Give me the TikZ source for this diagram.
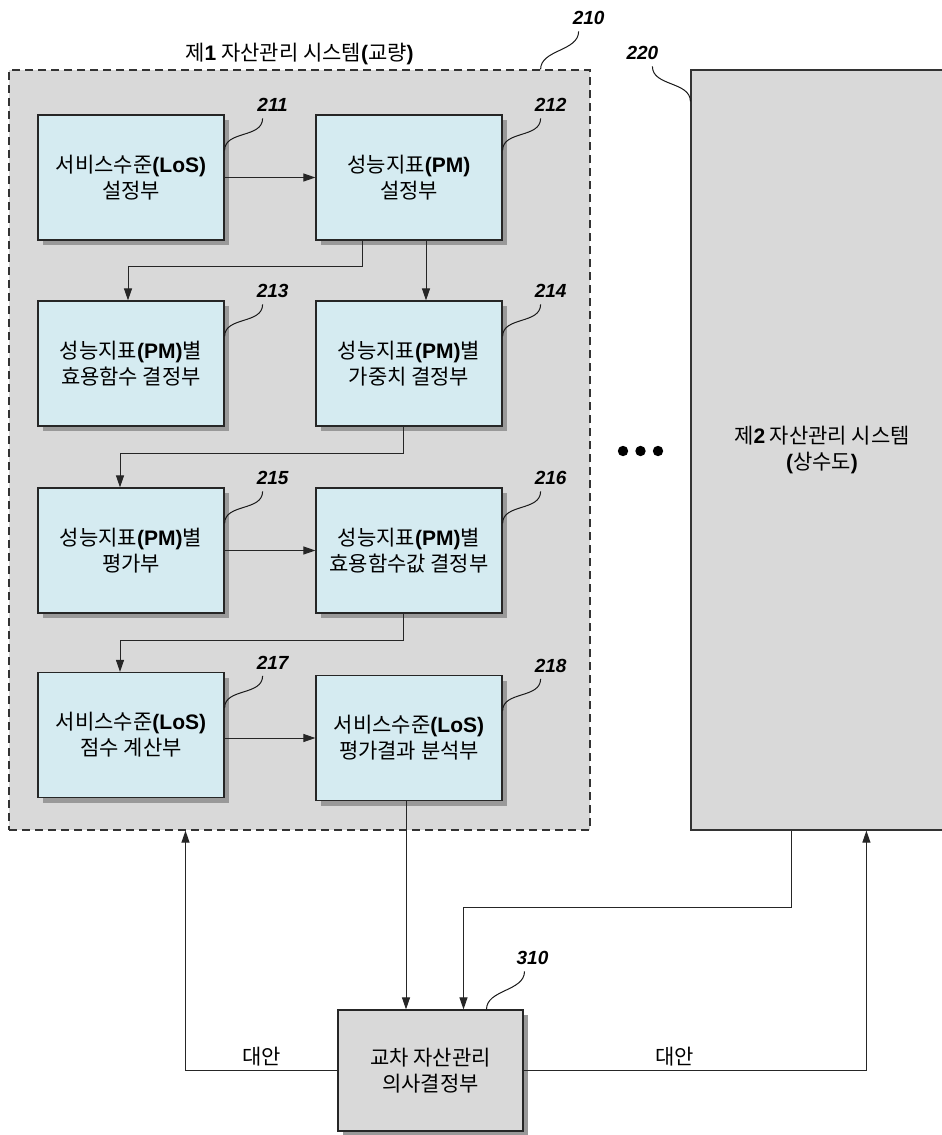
\documentclass[tikz,border=0pt]{standalone}
\usepackage{fontspec}
\setmainfont{Noto Sans CJK KR}
\newfontfamily\latf{Liberation Sans}
\newcommand{\latb}[1]{{\latf\bfseries #1}}
\usetikzlibrary{arrows.meta,shadows,positioning}

\begin{document}
\begin{tikzpicture}[x=0.5pt,y=-0.5pt,
  font=\fontsize{10.5}{13}\selectfont,
  sysbox/.style={draw=black!80,line width=0.6pt,fill=sysGray,inner sep=0pt,align=center},
  unit/.style={draw=black!85,line width=0.6pt,fill=unitBlue,minimum width=93pt,minimum height=62.5pt,
    align=center,inner sep=0pt,drop shadow={shadow xshift=2.5pt,shadow yshift=-2.5pt,fill=black!40,opacity=1}},
  arr/.style={-{Triangle[length=6pt,width=4pt]},line width=0.5pt,draw=black!85},
  lead/.style={line width=0.5pt,draw=black!90},
  refno/.style={font=\latf\bfseries\itshape\fontsize{9.5}{11}\selectfont,inner sep=1pt}]
\definecolor{unitBlue}{HTML}{D5EBF1}
\definecolor{sysGray}{HTML}{D9D9D9}
\useasboundingbox (0,0) rectangle (942,1135);
\clip (0,0) rectangle (942,1135);
\fill[white] (0,0) rectangle (942,1135);

% systems
\node[sysbox,dashed,dash pattern=on 4pt off 2.5pt,minimum width=290.5pt,minimum height=380pt] (sys1) at (299.5,450) {};
\node[above=1pt,inner sep=1pt] (sys1title) at (sys1.north) {제\latb{1} 자산관리 시스템\latb{(}교량\latb{)}};
\node[sysbox,minimum width=131pt,minimum height=380pt] (sys2) at (822,450) {제\latb{2} 자산관리 시스템\\\latb{(}상수도\latb{)}};
\foreach \x in {623,640.5,658} \fill (\x,451) circle (2.6pt);

% units of the first system
\node[unit] (b211) at (131,177.5) {서비스수준\latb{(LoS)}\\설정부};
\node[unit] (b212) at (409,177.5) {성능지표\latb{(PM)}\\설정부};
\node[unit] (b213) at (131,363.5) {성능지표\latb{(PM)}별\\효용함수 결정부};
\node[unit] (b214) at (409,363.5) {성능지표\latb{(PM)}별\\가중치 결정부};
\node[unit] (b215) at (131,550.5) {성능지표\latb{(PM)}별\\평가부};
\node[unit] (b216) at (409,550.5) {성능지표\latb{(PM)}별\\효용함수값 결정부};
\node[unit] (b217) at (131,735) {서비스수준\latb{(LoS)}\\점수 계산부};
\node[unit] (b218) at (409,738) {서비스수준\latb{(LoS)}\\평가결과 분석부};

% decision unit
\node[unit,fill=sysGray,minimum width=92.5pt,minimum height=60.5pt] (b310) at (430.5,1070.5) {교차 자산관리\\의사결정부};

% reference numbers
\foreach \b/\n in {b211/211,b212/212,b213/213,b214/214,b215/215,b216/216,b217/217,b218/218}
  \draw[lead] ([yshift=-18pt]\b.north east) .. controls +(0,-20) and +(0,20) .. +(38,-32) node[refno,above=2pt,xshift=5pt] {\n};
\draw[lead] ([xshift=-25pt]sys1.north east) .. controls +(0,-20) and +(0,20) .. +(38,-38) node[refno,above=2pt,xshift=5pt] {210};
\draw[lead] ([yshift=-16pt]sys2.north west) .. controls +(0,-20) and +(0,20) .. +(-38,-35) node[refno,above=2pt,xshift=-5pt] {220};
\draw[lead] ([xshift=28pt]b310.north) .. controls +(0,-20) and +(0,20) .. +(38,-38) node[refno,above=2pt,xshift=4pt] {310};

% connectors
\draw[arr] (b211) -- (b212);
\draw[arr] ([xshift=-23.5pt]b212.south) -- ++(0,26) -| ([xshift=-1.5pt]b213.north);
\draw[arr] ([xshift=8.5pt]b212.south) -- ([xshift=8.5pt]b214.north);
\draw[arr] ([xshift=-3pt]b214.south) -- ++(0,27) -| ([xshift=-5.5pt]b215.north);
\draw[arr] (b215) -- (b216);
\draw[arr] ([xshift=-3pt]b216.south) -- ++(0,27) -| ([xshift=-5.5pt]b217.north);
\draw[arr] (b217.east |- b218.west) -- (b218.west);
\draw[arr] ([xshift=-1.5pt]b218.south) -- ([xshift=-12.25pt]b310.north);
\draw[arr] ([xshift=50.5pt]sys2.south west) -- ++(0,77) -| ([xshift=16.5pt]b310.north);
\draw[arr] (b310.west) -| node[pos=0.25,above,inner sep=2pt] {대안} ([xshift=-57pt]sys1.south);
\draw[arr] (b310.east) -| node[pos=0.22,above,inner sep=2pt] {대안} ([xshift=88pt]sys2.south west);
\end{tikzpicture}
\end{document}
